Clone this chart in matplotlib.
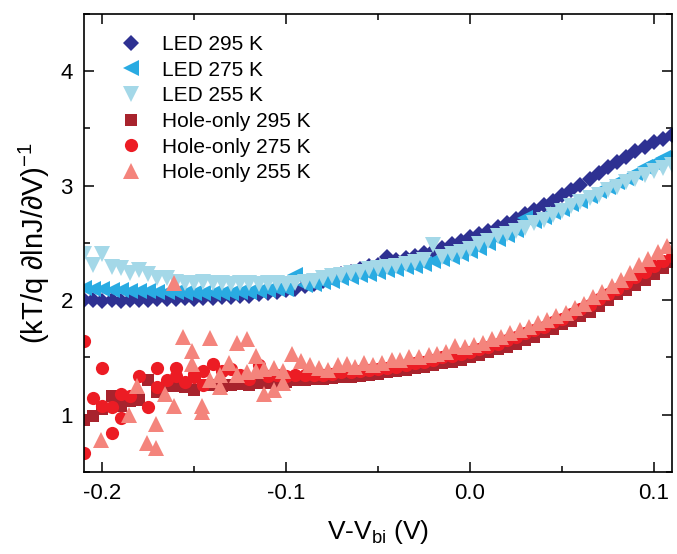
import matplotlib
matplotlib.use("Agg")
import matplotlib.pyplot as plt
from matplotlib.ticker import MultipleLocator

plt.rcParams['font.family'] = ['Liberation Sans', 'DejaVu Sans']
plt.rcParams['mathtext.fontset'] = 'custom'
plt.rcParams['mathtext.rm'] = 'Liberation Sans'
plt.rcParams['mathtext.it'] = 'Liberation Sans:italic'
plt.rcParams['mathtext.default'] = 'regular'
plt.rcParams['axes.unicode_minus'] = False

# common voltage grid (V - Vbi)
V = [-0.210, -0.205, -0.200, -0.195, -0.190, -0.185, -0.180, -0.175, -0.170, -0.165,
     -0.160, -0.155, -0.150, -0.145, -0.140, -0.135, -0.130, -0.125, -0.120, -0.115,
     -0.110, -0.105, -0.100, -0.095, -0.090, -0.085, -0.080, -0.075, -0.070, -0.065,
     -0.060, -0.055, -0.050, -0.045, -0.040, -0.035, -0.030, -0.025, -0.020, -0.015,
     -0.010, -0.005, 0.000, 0.005, 0.010, 0.015, 0.020, 0.025, 0.030, 0.035,
     0.040, 0.045, 0.050, 0.055, 0.060, 0.065, 0.070, 0.075, 0.080, 0.085,
     0.090, 0.095, 0.100, 0.105, 0.110]

led_295 = [2.00, 2.00, 1.99, 2.00, 1.99, 2.00, 2.00, 2.00, 2.01, 2.01,
           2.01, 2.02, 2.01, 2.02, 2.02, 2.03, 2.03, 2.04, 2.04, 2.05,
           2.06, 2.07, 2.09, 2.10, 2.12, 2.14, 2.17, 2.20, 2.23, 2.25,
           2.27, 2.30, 2.31, 2.38, 2.35, 2.37, 2.39, 2.41, 2.43, 2.46,
           2.49, 2.52, 2.55, 2.58, 2.60, 2.64, 2.67, 2.71, 2.75, 2.79,
           2.83, 2.87, 2.92, 2.96, 3.01, 3.06, 3.11, 3.16, 3.21, 3.25,
           3.30, 3.34, 3.38, 3.41, 3.44]

led_275 = [2.11, 2.10, 2.10, 2.09, 2.09, 2.08, 2.08, 2.08, 2.07, 2.07,
           2.07, 2.06, 2.06, 2.06, 2.06, 2.06, 2.06, 2.07, 2.07, 2.08,
           2.09, 2.10, 2.10, 2.22, 2.13, 2.14, 2.16, 2.17, 2.19, 2.20,
           2.22, 2.23, 2.25, 2.26, 2.27, 2.29, 2.30, 2.32, 2.34, 2.36,
           2.38, 2.40, 2.43, 2.46, 2.50, 2.53, 2.57, 2.61, 2.72, 2.69,
           2.73, 2.77, 2.80, 2.84, 2.87, 2.91, 2.95, 2.99, 3.03, 3.07,
           3.11, 3.16, 3.20, 3.24, 3.27]

led_255 = [2.40, 2.31, 2.40, 2.29, 2.28, 2.24, 2.26, 2.23, 2.19, 2.19,
           2.16, 2.15, 2.15, 2.16, 2.15, 2.15, 2.14, 2.15, 2.15, 2.14,
           2.15, 2.15, 2.14, 2.15, 2.16, 2.17, 2.19, 2.21, 2.22, 2.24,
           2.25, 2.27, 2.28, 2.29, 2.30, 2.32, 2.33, 2.35, 2.48, 2.38,
           2.40, 2.42, 2.45, 2.49, 2.52, 2.56, 2.58, 2.60, 2.63, 2.67,
           2.70, 2.74, 2.78, 2.82, 2.86, 2.89, 2.92, 2.96, 2.99, 3.03,
           3.06, 3.09, 3.13, 3.15, 3.18]

hole_295 = [0.95, 0.99, 1.05, 1.16, 1.08, 1.12, 1.13, 1.30, 1.20, 1.25,
            1.25, 1.24, 1.22, 1.26, 1.26, 1.25, 1.26, 1.27, 1.26, 1.28,
            1.28, 1.29, 1.29, 1.30, 1.30, 1.31, 1.31, 1.32, 1.33, 1.33,
            1.34, 1.35, 1.36, 1.37, 1.38, 1.39, 1.41, 1.42, 1.43, 1.45,
            1.46, 1.48, 1.50, 1.52, 1.545, 1.57, 1.59, 1.62, 1.65, 1.68,
            1.72, 1.75, 1.79, 1.82, 1.86, 1.90, 1.95, 2.00, 2.05, 2.09,
            2.13, 2.18, 2.23, 2.28, 2.33]

hole_275 = [1.64, 1.15, 1.41, 1.07, 1.18, 1.165, 1.34, 1.07, 1.41, 1.30,
            1.41, 1.29, 1.36, 1.38, 1.44, 1.38, 1.40, 1.35, 1.31, 1.43,
            1.34, 1.35, 1.34, 1.35, 1.35, 1.35, 1.35, 1.36, 1.37, 1.37,
            1.38, 1.39, 1.40, 1.41, 1.42, 1.43, 1.45, 1.46, 1.48, 1.50,
            1.51, 1.53, 1.55, 1.57, 1.59, 1.62, 1.65, 1.68, 1.71, 1.74,
            1.77, 1.81, 1.84, 1.88, 1.92, 1.96, 2.01, 2.05, 2.10, 2.15,
            2.20, 2.25, 2.30, 2.34, 2.39]
# second readings at low bias (noisy region)
hole_275_extra_v = [-0.210, -0.200, -0.195, -0.190, -0.170, -0.160, -0.150, -0.145]
hole_275_extra = [0.67, 1.08, 0.84, 0.97, 1.24, 1.34, 1.33, 1.26]

hole_255_v = [-0.2005, -0.1855, -0.181, -0.1755, -0.171, -0.171, -0.166, -0.161, -0.161, -0.156,
              -0.151, -0.151, -0.146, -0.146, -0.1415, -0.1415, -0.136, -0.136, -0.131, -0.1265,
              -0.1265, -0.1215, -0.1215, -0.1165, -0.1165, -0.112, -0.112, -0.1065, -0.1065, -0.102,
              -0.102, -0.097, -0.092, -0.087, -0.082,
              -0.077, -0.072, -0.067, -0.0625, -0.0575, -0.053, -0.048, -0.0425, -0.038, -0.033,
              -0.028, -0.0225, -0.018, -0.013, -0.008, -0.003,
              0.002, 0.007, 0.012, 0.017, 0.022, 0.027, 0.032, 0.037, 0.042, 0.047,
              0.052, 0.057, 0.062, 0.067, 0.072, 0.077, 0.082, 0.087, 0.092, 0.097,
              0.102, 0.107]
hole_255 = [0.78, 1.00, 1.25, 0.75, 0.92, 0.71, 1.18, 1.08, 2.15, 1.68,
            1.56, 1.44, 1.08, 1.02, 1.67, 1.30, 1.35, 1.24, 1.455, 1.63,
            1.35, 1.66, 1.37, 1.51, 1.38, 1.40, 1.185, 1.41, 1.22, 1.38,
            1.28, 1.53, 1.47, 1.43, 1.41,
            1.39, 1.43, 1.44, 1.42, 1.455, 1.43, 1.455, 1.475, 1.475, 1.50,
            1.50, 1.52, 1.53, 1.55, 1.60, 1.59,
            1.61, 1.63, 1.66, 1.68, 1.71, 1.74, 1.77, 1.80, 1.83, 1.86,
            1.89, 1.93, 1.97, 2.03, 2.07, 2.12, 2.18, 2.24, 2.31, 2.36,
            2.42, 2.47]

fig = plt.figure(figsize=(6.77, 5.54), dpi=100)
ax = fig.add_axes([0.124, 0.148, 0.869, 0.827])

ax.plot(V, led_295, ls='none', marker='D', ms=8.5, mew=0, color='#2e3192', label='LED 295 K')
ax.plot(V, led_275, ls='none', marker='<', ms=11.5, mew=0, color='#29abe2', label='LED 275 K')
ax.plot(V, led_255, ls='none', marker='v', ms=11.5, mew=0, color='#a4d8e8', label='LED 255 K')
ax.plot(V, hole_295, ls='none', marker='s', ms=8.5, mew=0, color='#a8232d', label='Hole-only 295 K')
ax.plot(V, hole_275, ls='none', marker='o', ms=9.5, mew=0, color='#ec1c24', label='Hole-only 275 K')
ax.plot(hole_275_extra_v, hole_275_extra, ls='none', marker='o', ms=9.5, mew=0, color='#ec1c24')
ax.plot(hole_255_v, hole_255, ls='none', marker='^', ms=11.5, mew=0, color='#f4847c', label='Hole-only 255 K')

ax.set_xlim(-0.21, 0.11)
ax.set_ylim(0.5, 4.5)
ax.xaxis.set_major_locator(MultipleLocator(0.1))
ax.xaxis.set_minor_locator(MultipleLocator(0.05))
ax.yaxis.set_major_locator(MultipleLocator(1))
ax.yaxis.set_minor_locator(MultipleLocator(0.5))
ax.tick_params(which='both', direction='in', top=True, right=True, width=1.1)
ax.tick_params(which='major', length=7, labelsize=16, pad=8)
ax.tick_params(which='minor', length=4)
for s in ax.spines.values():
    s.set_linewidth(1.2)

ax.set_xlabel('V-V$_{bi}$ (V)', fontsize=19, labelpad=10)
ax.set_ylabel('(kT/q \u2202lnJ/\u2202V)$^{-1}$', fontsize=21, labelpad=6)

ax.legend(loc='upper left', bbox_to_anchor=(0.03, 0.995), frameon=False, numpoints=1,
          fontsize=15, handlelength=1.0, handletextpad=1.0, labelspacing=0.32)

fig.savefig('out.png', dpi=100)
